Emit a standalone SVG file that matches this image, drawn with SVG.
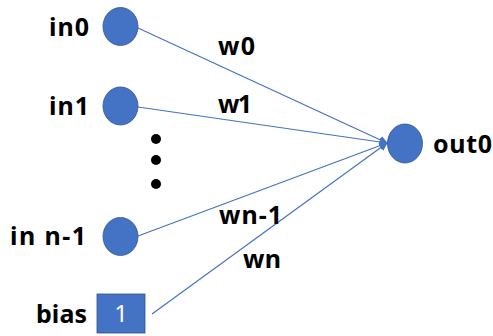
<svg xmlns="http://www.w3.org/2000/svg" width="493" height="336" viewBox="0 0 493 336">
<style>
.node{fill:#4472C4;stroke:#2F528F;stroke-width:0.8}
.lbl{font-family:"Noto Sans","Liberation Sans",sans-serif;font-weight:bold;font-size:25px;fill:#000}
.edge{stroke:#4472C4;stroke-width:1.2;fill:none}
</style>
<defs>
<marker id="arr" viewBox="0 0 10 10" refX="9" refY="5" markerWidth="7" markerHeight="7" orient="auto">
<path d="M0,0 L10,5 L0,10 z" fill="#4472C4"/>
</marker>
</defs>
<rect width="493" height="336" fill="#fff"/>
<g id="edges">
<line class="edge" x1="138" y1="28" x2="387" y2="143" marker-end="url(#arr)"/>
<line class="edge" x1="138" y1="107" x2="387" y2="143" marker-end="url(#arr)"/>
<line class="edge" x1="138" y1="236" x2="387" y2="143" marker-end="url(#arr)"/>
<line class="edge" x1="152" y1="314" x2="387" y2="143" marker-end="url(#arr)"/>
</g>
<g id="in0"><ellipse class="node" cx="120.5" cy="26.5" rx="17.5" ry="19"/><text class="lbl" x="49" y="36" textLength="40" lengthAdjust="spacing">in0</text></g>
<g id="in1"><ellipse class="node" cx="120.5" cy="106" rx="17.5" ry="19"/><text class="lbl" x="49" y="115" textLength="40" lengthAdjust="spacing">in1</text></g>
<g id="dots">
<circle cx="156" cy="139" r="5" fill="#000"/>
<circle cx="156" cy="160" r="5" fill="#000"/>
<circle cx="156" cy="184" r="5" fill="#000"/>
</g>
<g id="inn1"><ellipse class="node" cx="120.5" cy="236.5" rx="17.5" ry="19"/><text class="lbl" x="10" y="245" textLength="76" lengthAdjust="spacing">in n-1</text></g>
<g id="bias"><rect x="97" y="294" width="48" height="39" fill="#4472C4" stroke="#2F528F" stroke-width="0.8"/><text x="121" y="322" text-anchor="middle" font-family="Noto Sans,Liberation Sans,sans-serif" font-size="24" fill="#fff">1</text><text class="lbl" x="36" y="323" textLength="51" lengthAdjust="spacing">bias</text></g>
<g id="out0"><ellipse class="node" cx="405" cy="143.5" rx="17.5" ry="19.5"/><text class="lbl" x="433" y="153" textLength="59" lengthAdjust="spacing">out0</text></g>
<g id="weights">
<text class="lbl" x="218" y="55" textLength="37" lengthAdjust="spacing">w0</text>
<text class="lbl" x="218" y="113" textLength="34" lengthAdjust="spacing">w1</text>
<text class="lbl" x="219" y="224" textLength="63" lengthAdjust="spacing">wn-1</text>
<text class="lbl" x="243" y="268" textLength="38" lengthAdjust="spacing">wn</text>
</g>
</svg>
